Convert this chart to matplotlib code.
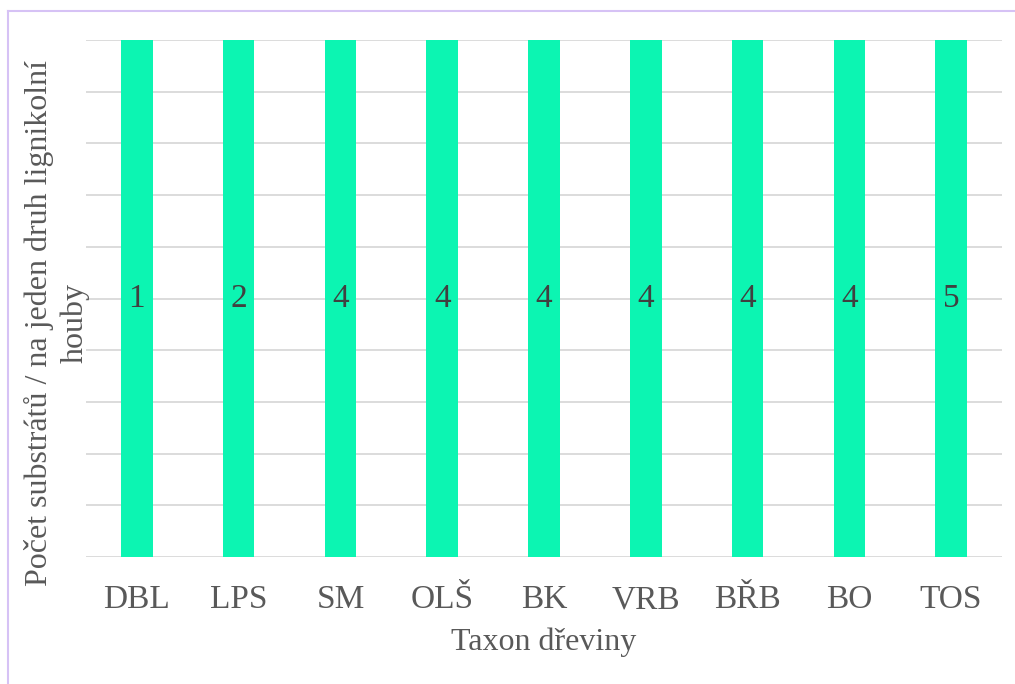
import matplotlib
matplotlib.use("Agg")
import matplotlib.pyplot as plt
from matplotlib.lines import Line2D

categories = ["DBL", "LPS", "SM", "OLŠ", "BK", "VRB", "BŘB", "BO", "TOS"]
counts = [1, 2, 4, 4, 4, 4, 4, 4, 5]
share = [100] * len(categories)  # each bar fills 100 %

plt.rcParams['font.family'] = ['Liberation Serif', 'DejaVu Serif']

W, H = 1015, 684
fig = plt.figure(figsize=(W/100, H/100), dpi=100)
ax = fig.add_axes([86/W, 1-557/H, (1002-86)/W, (557-40)/H])

x = range(len(categories))
bars = ax.bar(x, share, width=0.31, color="#0CF5B2", zorder=3)
for xi, c in zip(x, counts):
    ax.text(xi, 50, str(c), ha="center", va="center", fontsize=24, color="#404040", zorder=4)

ax.set_ylim(0, 100)
ax.set_xlim(-0.5, len(categories) - 0.5)
ax.set_yticks(range(0, 101, 10))
ax.set_yticklabels([])
ax.tick_params(axis="y", length=0)
ax.tick_params(axis="x", length=0, pad=20, labelsize=24, labelcolor="#595959")
ax.set_xticks(list(x))
ax.set_xticklabels(categories)
ax.grid(axis="y", color="#D9D9D9", linewidth=1.3, zorder=0)
for s in ax.spines.values():
    s.set_visible(False)

ax.set_xlabel("Taxon dřeviny", fontsize=23, color="#595959", labelpad=9)
fig.text(57/W, 1-323/H, "Počet substrátů / na jeden druh lignikolní\nhouby",
         rotation=90, ha="center", va="center", fontsize=23, color="#595959",
         linespacing=1.28, multialignment="center")

# light purple frame (top and left)
fig.add_artist(Line2D([8/W, 8/W], [0, 1-11/H], color="#D6C2F5", linewidth=1.5, transform=fig.transFigure))
fig.add_artist(Line2D([8/W, 1], [1-11/H, 1-11/H], color="#D6C2F5", linewidth=1.5, transform=fig.transFigure))

fig.savefig("out.png", dpi=100)
